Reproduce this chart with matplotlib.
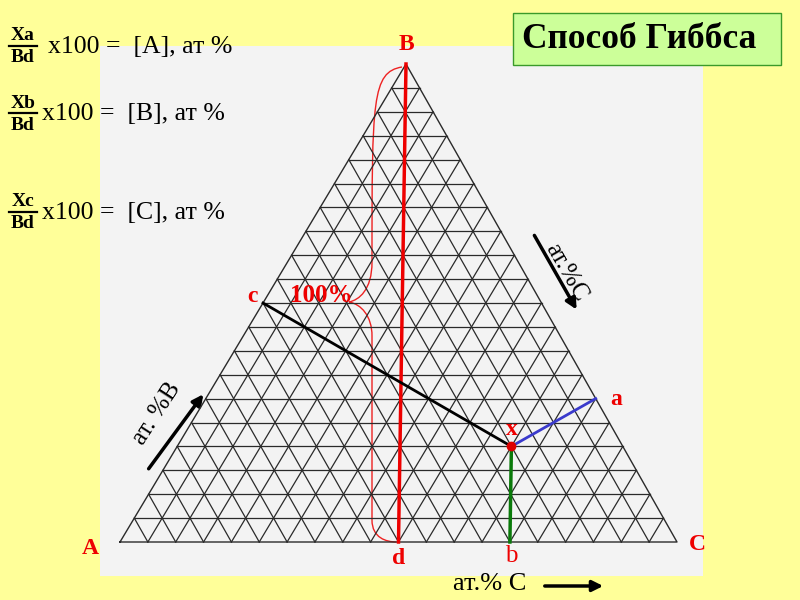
import numpy as np
import matplotlib.pyplot as plt
from matplotlib.patches import Rectangle, PathPatch, FancyArrowPatch
from matplotlib.path import Path

# composition of point x, at.%
at_A = 20
at_B = 20
at_C = 60
n_div = 20  # grid divisions (5 % step)

formula_num = ['Xa', 'Xb', 'Xc']
formula_rhs = ['x100 =  [A], ат %', 'x100 =  [B], ат %', 'x100 =  [C], ат %']
title = 'Способ Гиббса'

# placement of the diagram on the page (pixels)
A_px = np.array([120., 542.])
B_px = np.array([406., 64.])
C_px = np.array([677., 542.])
s3 = np.sqrt(3) / 2


def bary(wa, wb, wc):
    return wa * A_px + wb * B_px + wc * C_px


def cart2px(u, v):
    wb = v / s3
    wc = u - 0.5 * wb
    return bary(1 - wb - wc, wb, wc)


fig = plt.figure(figsize=(8, 6), dpi=100)
fig.patch.set_facecolor('#ffff99')
ax = fig.add_axes([0, 0, 1, 1])
ax.set_xlim(0, 800)
ax.set_ylim(600, 0)
ax.axis('off')

ax.add_patch(Rectangle((100, 46), 603, 530, facecolor='#f3f3f3', edgecolor='none'))

# triangular grid
gc = '#2a2a2a'
for i in range(1, n_div):
    f = i / n_div
    for p, q in [((1 - f, f, 0), (0, f, 1 - f)),
                 ((1 - f, 0, f), (0, 1 - f, f)),
                 ((f, 1 - f, 0), (f, 0, 1 - f))]:
        p1, p2 = bary(*p), bary(*q)
        ax.plot([p1[0], p2[0]], [p1[1], p2[1]], color=gc, lw=0.9)
tri = np.array([A_px, B_px, C_px, A_px])
ax.plot(tri[:, 0], tri[:, 1], color=gc, lw=1.0)

# point x and the perpendiculars
wa, wb, wc = at_A / 100, at_B / 100, at_C / 100
u = wc + 0.5 * wb
v = wb * s3
X = np.array([u, v])
foot_b = np.array([u, 0.0])
dC = np.array([-0.5, s3])
foot_a = np.array([1, 0]) + np.dot(X - np.array([1, 0]), dC) * dC
dA = np.array([0.5, s3])
foot_c = np.dot(X, dA) * dA

xp = cart2px(*X)
bp = cart2px(*foot_b)
ap = cart2px(*foot_a)
cp = cart2px(*foot_c)
dp = cart2px(0.5, 0)
Bp = cart2px(0.5, s3)

ax.plot([Bp[0], dp[0]], [Bp[1], dp[1]], color='#ee0000', lw=2.5)
ax.plot([cp[0], xp[0]], [cp[1], xp[1]], color='black', lw=2)
ax.plot([xp[0], ap[0]], [xp[1], ap[1]], color='#3a3acc', lw=2)
ax.plot([xp[0], bp[0]], [xp[1], bp[1]], color='#0a7a0a', lw=2.5)
ax.plot(xp[0], xp[1], 'o', color='#dd0000', ms=6)

# brace along Bd
off = 34
tipx, tipy = Bp[0] - 57, 302
vx = Bp[0] - off
verts = [(Bp[0] - 4, Bp[1] + 3), (vx, Bp[1] + 8), (vx, Bp[1] + 36),
         (vx, tipy - 40),
         (vx, tipy - 12), (tipx + 10, tipy - 2), (tipx, tipy),
         (tipx + 12, tipy + 2), (vx, tipy + 14), (vx, tipy + 34),
         (vx, dp[1] - 22),
         (vx, dp[1] - 4), (dp[0] - 12, dp[1]), (dp[0] - 2, dp[1])]
codes = [Path.MOVETO, Path.CURVE4, Path.CURVE4, Path.LINETO,
         Path.CURVE4, Path.CURVE4, Path.CURVE4,
         Path.CURVE4, Path.CURVE4, Path.CURVE4,
         Path.LINETO, Path.CURVE4, Path.CURVE4, Path.CURVE4]
ax.add_patch(PathPatch(Path(verts, codes), facecolor='none', edgecolor='#ee2222', lw=1))

serif = 'Liberation Serif'
red = '#ee0000'
lab = dict(color=red, fontfamily=serif, fontweight='bold', ha='center', va='center')
ax.text(A_px[0] - 30, A_px[1] + 7, 'A', fontsize=17, **lab)
ax.text(B_px[0], B_px[1] - 19, 'B', fontsize=17, **lab)
ax.text(C_px[0] + 20, C_px[1] + 3, 'C', fontsize=17, **lab)
ax.text(dp[0], dp[1] + 16, 'd', fontsize=17, **lab)
ax.text(bp[0] + 1, bp[1] + 14, 'b', color=red, fontfamily=serif, fontsize=18,
        ha='center', va='center')
ax.text(ap[0] + 20, ap[1] + 1, 'a', fontsize=17, **lab)
ax.text(xp[0], xp[1] - 17, 'x', fontsize=17, **lab)
ax.text(cp[0] - 11, cp[1] - 7, 'c', fontsize=17, **lab)
ax.text(321, 296, '100%', fontsize=18, **lab)

# axis captions with arrows
ax.text(157, 414, 'ат. %B', fontsize=18, fontfamily=serif, rotation=57,
        ha='center', va='center')
ax.add_patch(FancyArrowPatch((147, 471), (205, 392), arrowstyle='-|>',
                             mutation_scale=16, lw=2.5, color='black'))
ax.text(566, 272, 'ат.%C', fontsize=18, fontfamily=serif, rotation=-60,
        ha='center', va='center')
ax.add_patch(FancyArrowPatch((533, 233), (578, 312), arrowstyle='-|>',
                             mutation_scale=16, lw=2.5, color='black'))
ax.text(490, 584, 'ат.% C', fontsize=19, fontfamily=serif, ha='center', va='center')
ax.add_patch(FancyArrowPatch((542, 586), (606, 586), arrowstyle='-|>',
                             mutation_scale=16, lw=2.5, color='black'))

# formulas
rows_y = [47, 114, 213]
for num, rhs, y in zip(formula_num, formula_rhs, rows_y):
    ax.text(23, y - 11, num, fontsize=14, fontfamily=serif, fontweight='bold',
            ha='center', va='center')
    ax.plot([9, 37], [y - 1, y - 1], color='black', lw=1.6)
    ax.text(23, y + 11, 'Bd', fontsize=14, fontfamily=serif, fontweight='bold',
            ha='center', va='center')
    ax.text(42 if num != 'Xa' else 48, y, rhs, fontsize=18.5, fontfamily=serif,
            ha='left', va='center')

# title box
ax.add_patch(Rectangle((513, 13), 268, 52, facecolor='#ccff99', edgecolor='#3a9a2a', lw=1))
ax.text(522, 40, title, fontsize=25.5, fontfamily=serif, fontweight='bold',
        ha='left', va='center')

fig.savefig('out.png', dpi=100, facecolor=fig.get_facecolor())
